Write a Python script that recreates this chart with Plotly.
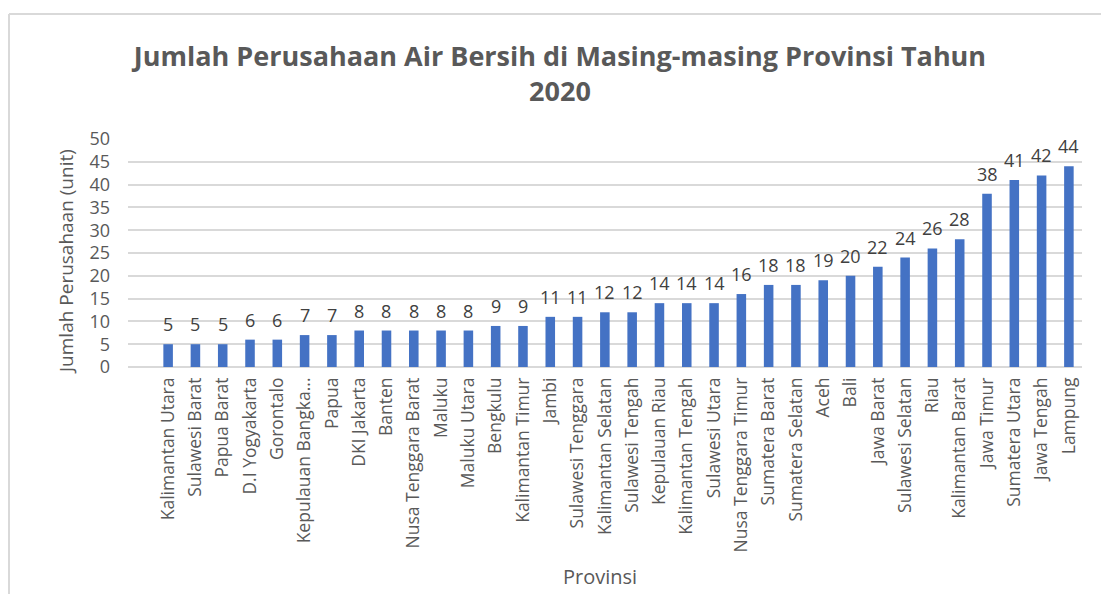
import plotly.graph_objects as go

provinsi = ["Kalimantan Utara", "Sulawesi Barat", "Papua Barat", "D.I Yogyakarta", "Gorontalo",
            "Kepulauan Bangka...", "Papua", "DKI Jakarta", "Banten", "Nusa Tenggara Barat",
            "Maluku", "Maluku Utara", "Bengkulu", "Kalimantan Timur", "Jambi",
            "Sulawesi Tenggara", "Kalimantan Selatan", "Sulawesi Tengah", "Kepulauan Riau",
            "Kalimantan Tengah", "Sulawesi Utara", "Nusa Tenggara Timur", "Sumatera Barat",
            "Sumatera Selatan", "Aceh", "Bali", "Jawa Barat", "Sulawesi Selatan", "Riau",
            "Kalimantan Barat", "Jawa Timur", "Sumatera Utara", "Jawa Tengah", "Lampung"]
jumlah = [5, 5, 5, 6, 6, 7, 7, 8, 8, 8, 8, 8, 9, 9, 11, 11, 12, 12, 14, 14, 14, 16, 18, 18,
          19, 20, 22, 24, 26, 28, 38, 41, 42, 44]
y_ticks = [0, 5, 10, 15, 20, 25, 30, 35, 40, 45, 50]

W, H = 1102, 594
L, R, T, B = 128, 20, 139, 227
pw, ph = W - L - R, H - T - B

txt = "#595959"
fig = go.Figure()
fig.add_trace(go.Bar(
    x=list(range(len(provinsi))), y=jumlah, width=0.35,
    marker=dict(color="#4472C4", line=dict(width=0)),
    hoverinfo="x+y",
))
for i, v in enumerate(jumlah):
    fig.add_annotation(x=i, y=v, text=str(v), showarrow=False, yanchor="bottom",
                       yshift=6, font=dict(family="Open Sans", size=18, color="#404040"))

def px(xp):
    return (xp - L) / pw

def py(yp):
    return (H - B - yp) / ph

fig.add_shape(type="line", xref="paper", yref="paper", x0=px(9), x1=px(1101), y0=py(14), y1=py(14),
              line=dict(color="#d9d9d9", width=2))
fig.add_shape(type="line", xref="paper", yref="paper", x0=px(9), x1=px(9), y0=py(14), y1=py(594),
              line=dict(color="#d9d9d9", width=2))

# axis titles placed as annotations for exact placement
fig.add_annotation(xref="paper", yref="paper", x=px(66), y=py(262), text="Jumlah Perusahaan (unit)",
                   textangle=-90, showarrow=False, xanchor="center", yanchor="middle",
                   font=dict(family="Open Sans", size=19, color=txt))
fig.add_annotation(xref="paper", yref="paper", x=px(600), y=py(576), text="Provinsi",
                   showarrow=False, xanchor="center", yanchor="middle",
                   font=dict(family="Open Sans", size=20, color=txt))

fig.update_layout(
    width=W, height=H,
    margin=dict(l=L, r=R, t=T, b=B),
    paper_bgcolor="white", plot_bgcolor="white",
    showlegend=False,
    title=dict(text="Jumlah Perusahaan Air Bersih di Masing-masing Provinsi Tahun<br>2020",
               x=560 / W, xanchor="center", y=1 - 65.5 / H, yanchor="middle",
               font=dict(family="Open Sans", size=27, color=txt, weight="bold")),
    xaxis=dict(
        tickmode="array", tickvals=list(range(len(provinsi))), ticktext=provinsi,
        tickangle=-90, range=[-1.47, 33.48],
        tickfont=dict(family="Open Sans", size=17.5, color=txt),
        ticklabelstandoff=6,
        showgrid=False, showline=False, zeroline=False, ticks="",
    ),
    yaxis=dict(
        range=[0, 50], tickmode="array", tickvals=y_ticks,
        tickfont=dict(family="Open Sans", size=18, color=txt),
        ticklabelstandoff=17,
        showgrid=True, gridcolor="#d9d9d9", gridwidth=1.5,
        zeroline=True, zerolinecolor="#d9d9d9", zerolinewidth=1.5,
        showline=False, ticks="",
    ),
)

fig.write_html("out.html", config={"displayModeBar": False},
               post_script="document.body.style.margin='0';")
